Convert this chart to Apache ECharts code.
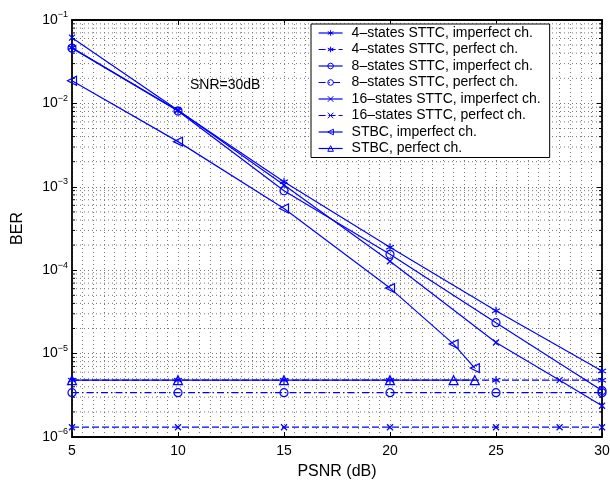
<!DOCTYPE html>
<html>
<head>
<meta charset="utf-8">
<script src="https://cdn.jsdelivr.net/npm/echarts@6/dist/echarts.min.js"></script>
<style>
html,body{margin:0;padding:0;background:#fff;}
#chart{width:610px;height:480px;}
</style>
</head>
<body>
<div id="chart"></div>
<script>
// ---- data ----
const seriesNames = [
  '4–states STTC, imperfect ch.',
  '4–states STTC, perfect ch.',
  '8–states STTC, imperfect ch.',
  '8–states STTC, perfect ch.',
  '16–states STTC, imperfect ch.',
  '16–states STTC, perfect ch.',
  'STBC, imperfect ch.',
  'STBC, perfect ch.'
];
const psnr4 = [5, 10, 15, 20, 25, 30];
const ber4Imperfect = [0.0466, 0.0082, 0.00115, 1.88e-4, 3.27e-5, 6.2e-6];
const ber4Perfect = [4.8e-6, 4.8e-6, 4.8e-6, 4.8e-6, 4.8e-6, 4.8e-6];
const psnr8 = [5, 10, 15, 20, 25, 30];
const ber8Imperfect = [0.046, 0.0081, 8.97e-4, 1.55e-4, 2.35e-5, 3.6e-6];
const ber8Perfect = [3.4e-6, 3.4e-6, 3.4e-6, 3.4e-6, 3.4e-6, 3.4e-6];
const psnr16 = [5, 10, 15, 20, 25, 28, 30];
const ber16Imperfect = [0.0614, 0.0083, 1.05e-3, 1.28e-4, 1.36e-5, 4.8e-6, 2.37e-6];
const ber16Perfect = [1.31e-6, 1.31e-6, 1.31e-6, 1.31e-6, 1.31e-6, 1.31e-6, 1.31e-6];
const psnrStbc = [5, 10, 15, 20, 23, 24];
const berStbcImperfect = [0.0187, 0.00348, 5.5e-4, 6.1e-5, 1.3e-5, 6.7e-6];
const berStbcPerfect = [4.8e-6, 4.8e-6, 4.8e-6, 4.8e-6, 4.8e-6, 4.8e-6];
const xTicks = [5, 10, 15, 20, 25, 30];
const yDecades = [-6, -5, -4, -3, -2, -1];
const annotation = 'SNR=30dB';

// ---- styling helpers ----
const BLUE = '#0000ff';
const FONT = 'Liberation Sans, Arial, Helvetica, sans-serif';
const SYM = {
  star: 'path://M0,-5L0,5M-4.33,-2.5L4.33,2.5M-4.33,2.5L4.33,-2.5',
  circle: 'circle',
  cross: 'path://M-1,-1L1,1M-1,1L1,-1',
  left: 'path://M10,0L10,10L0,5Z',
  up: 'triangle'
};
const pair = (xs, ys) => xs.map((x, i) => [x, ys[i]]);
function mk(name, xs, ys, symbol, size, lineType) {
  return {
    name, type: 'line', data: pair(xs, ys),
    symbol, symbolSize: size, showSymbol: true,
    color: BLUE,
    lineStyle: { color: BLUE, width: 1.2, type: lineType },
    itemStyle: { color: 'rgba(255,255,255,0)', borderColor: BLUE, borderWidth: 1.2 },
    emphasis: { disabled: true },
    z: 3
  };
}
const DASH = [7, 3];
const DASHDOT = [7, 3, 1.5, 3];

// minor grid positions on the log axis (2..9 x 10^n)
const minorY = [];
yDecades.slice(0, -1).forEach(d => {
  for (let k = 2; k <= 9; k++) minorY.push([5, k * Math.pow(10, d)]);
});

const chart = echarts.init(document.getElementById('chart'), null, { renderer: 'canvas' });
const supMap = { '-': '−' };
const GRIDC = '#777';
chart.setOption({
  animation: false,
  backgroundColor: '#fff',
  grid: { left: 72, right: 8, top: 20, bottom: 43, containLabel: false, outerBoundsMode: 'none' },
  legend: {
    data: seriesNames,
    orient: 'vertical',
    left: 311, top: 24,
    padding: [2, 9, 2, 7],
    itemGap: 2.5,
    itemWidth: 24, itemHeight: 7,
    backgroundColor: '#fff',
    borderColor: '#000', borderWidth: 1,
    itemStyle: { color: 'rgba(255,255,255,0)', borderColor: BLUE, borderWidth: 1 },
    lineStyle: { width: 1.2, color: BLUE },
    textStyle: { fontFamily: FONT, fontSize: 14, color: '#000', padding: [0, 0, 0, 4] },
    selectedMode: false
  },
  graphic: [{
    type: 'text', left: 190, top: 78, z: 10,
    style: { text: annotation, font: '14px ' + FONT, fill: '#000' }
  }],
  xAxis: [{
    type: 'value', min: 5, max: 30, interval: 5, position: 'bottom',
    name: 'PSNR (dB)', nameLocation: 'middle', nameGap: 27,
    nameTextStyle: { fontFamily: FONT, fontSize: 16, color: '#000' },
    axisLine: { show: true, onZero: false, lineStyle: { color: '#000', width: 1.8 } },
    axisTick: { show: true, inside: true, length: 5, lineStyle: { color: '#000' } },
    axisLabel: { fontFamily: FONT, fontSize: 14, color: '#000', margin: 7,
      formatter: v => xTicks.includes(v) ? String(v) : '' },
    splitLine: { show: true, lineStyle: { color: GRIDC, width: 1, type: [1, 3] } },
    minorTick: { show: false, splitNumber: 10 },
    minorSplitLine: { show: true, lineStyle: { color: GRIDC, width: 1, type: [1, 3] } }
  }, {
    type: 'value', min: 5, max: 30, interval: 5, position: 'top',
    axisLine: { show: true, onZero: false, lineStyle: { color: '#000', width: 1.8 } },
    axisTick: { show: true, inside: true, length: 5, lineStyle: { color: '#000' } },
    axisLabel: { show: false }, splitLine: { show: false }
  }],
  yAxis: [{
    type: 'log', logBase: 10, min: 1e-6, max: 1e-1, position: 'left',
    name: 'BER', nameLocation: 'middle', nameGap: 46, nameRotate: 90,
    nameTextStyle: { fontFamily: FONT, fontSize: 16, color: '#000' },
    axisLine: { show: true, onZero: false, lineStyle: { color: '#000', width: 1.8 } },
    axisTick: { show: true, inside: true, length: 5, lineStyle: { color: '#000' } },
    axisLabel: {
      margin: 4,
      formatter: v => {
        const e = Math.round(Math.log10(v));
        return '{b|10}{s|' + String(e).split('').map(c => supMap[c] || c).join('') + '}';
      },
      rich: {
        b: { fontFamily: FONT, fontSize: 14, color: '#000' },
        s: { fontFamily: FONT, fontSize: 9, color: '#000', padding: [0, 0, 10, 0] }
      }
    },
    splitLine: { show: true, lineStyle: { color: GRIDC, width: 1, type: [1, 3] } }
  }, {
    type: 'log', logBase: 10, min: 1e-6, max: 1e-1, position: 'right',
    axisLine: { show: true, onZero: false, lineStyle: { color: '#000', width: 1.8 } },
    axisTick: { show: true, inside: true, length: 5, lineStyle: { color: '#000' } },
    axisLabel: { show: false }, splitLine: { show: false }
  }],
  series: [
    {
      name: 'minorGrid', type: 'custom', silent: true, z: 1,
      data: minorY, encode: { x: 0, y: 1 },
      renderItem: (params, api) => {
        const p = api.coord([api.value(0), api.value(1)]);
        const cs = params.coordSys;
        return {
          type: 'group', children: [
            { type: 'line', shape: { x1: cs.x, y1: p[1], x2: cs.x + cs.width, y2: p[1] },
              style: { stroke: GRIDC, lineWidth: 1, lineDash: [1, 3] } },
            { type: 'line', shape: { x1: cs.x, y1: p[1], x2: cs.x + 3, y2: p[1] },
              style: { stroke: '#000', lineWidth: 1 } },
            { type: 'line', shape: { x1: cs.x + cs.width - 3, y1: p[1], x2: cs.x + cs.width, y2: p[1] },
              style: { stroke: '#000', lineWidth: 1 } }
          ]
        };
      }
    },
    mk(seriesNames[0], psnr4, ber4Imperfect, SYM.star, 8, 'solid'),
    mk(seriesNames[1], psnr4, ber4Perfect, SYM.star, 8, DASH),
    mk(seriesNames[2], psnr8, ber8Imperfect, SYM.circle, 8, 'solid'),
    mk(seriesNames[3], psnr8, ber8Perfect, SYM.circle, 8, DASHDOT),
    mk(seriesNames[4], psnr16, ber16Imperfect, SYM.cross, 6, 'solid'),
    mk(seriesNames[5], psnr16, ber16Perfect, SYM.cross, 6, DASH),
    mk(seriesNames[6], psnrStbc, berStbcImperfect, SYM.left, 9, 'solid'),
    mk(seriesNames[7], psnrStbc, berStbcPerfect, SYM.up, 9, 'solid')
  ]
});
</script>
</body>
</html>
